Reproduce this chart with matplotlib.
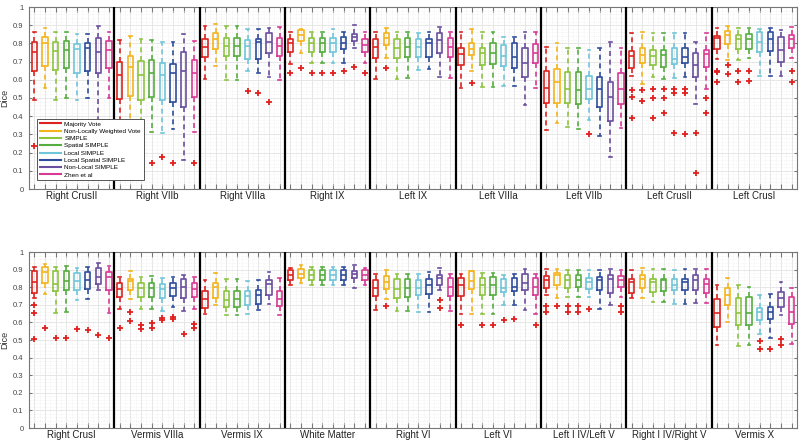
import matplotlib
matplotlib.use("Agg")
import matplotlib.pyplot as plt
from matplotlib.lines import Line2D
from matplotlib.ticker import MultipleLocator

plt.rcParams['font.family'] = ['Liberation Sans', 'DejaVu Sans']

methods = ["Majority Vote", "Non-Locally Weighted Vote", "SIMPLE", "Spatial SIMPLE",
           "Local SIMPLE", "Local Spatial SIMPLE", "Non-Local SIMPLE", "Zhen et al"]
colors = ["#dc2320", "#f4b41c", "#8cc43f", "#55ad3f", "#6fc6d8", "#2e4d9c", "#6a4f9e", "#d83a94"]

top_regions = ["Right CrusII", "Right VIIb", "Right VIIIa", "Right IX", "Left IX",
               "Left VIIIa", "Left VIIb", "Left CrusII", "Left CrusI"]
bottom_regions = ["Right CrusI", "Vermis VIIIa", "Vermis IX", "White Matter", "Right VI",
                  "Left VI", "Left I IV/Left V", "Right I IV/Right V", "Vermis X"]

whisker_hi = {
    "Right CrusII": [0.861, 0.883, 0.861, 0.861, 0.852, 0.853, 0.897, 0.861],
    "Right VIIb": [0.819, 0.84, 0.822, 0.819, 0.81, 0.81, 0.85, 0.815],
    "Right VIIIa": [0.896, 0.907, 0.896, 0.896, 0.877, 0.877, 0.886, 0.892],
    "Right IX": [0.861, 0.879, 0.861, 0.861, 0.877, 0.861, 0.901, 0.861],
    "Left IX": [0.864, 0.886, 0.864, 0.864, 0.859, 0.861, 0.888, 0.864],
    "Left VIIIa": [0.861, 0.879, 0.861, 0.864, 0.837, 0.837, 0.864, 0.864],
    "Left VIIb": [0.78, 0.80, 0.773, 0.777, 0.764, 0.777, 0.81, 0.777],
    "Left CrusII": [0.855, 0.861, 0.859, 0.859, 0.855, 0.859, 0.81, 0.859],
    "Left CrusI": [0.886, 0.897, 0.886, 0.886, 0.879, 0.883, 0.874, 0.892],
    "Right CrusI": [0.915, 0.934, 0.915, 0.92, 0.909, 0.915, 0.938, 0.92],
    "Vermis VIIIa": [0.858, 0.892, 0.858, 0.862, 0.854, 0.858, 0.871, 0.858],
    "Vermis IX": [0.843, 0.881, 0.848, 0.848, 0.833, 0.843, 0.886, 0.852],
    "White Matter": [0.909, 0.924, 0.915, 0.915, 0.915, 0.915, 0.924, 0.909],
    "Right VI": [0.873, 0.896, 0.873, 0.877, 0.877, 0.886, 0.911, 0.877],
    "Left VI": [0.877, 0.892, 0.881, 0.881, 0.871, 0.873, 0.905, 0.877],
    "Left I IV/Left V": [0.905, 0.905, 0.90, 0.90, 0.896, 0.90, 0.902, 0.90],
    "Right I IV/Right V": [0.90, 0.909, 0.902, 0.902, 0.90, 0.902, 0.902, 0.902],
    "Vermis X": [0.811, 0.854, 0.811, 0.801, 0.754, 0.759, 0.83, 0.797],
}
q3 = {
    "Right CrusII": [0.806, 0.833, 0.806, 0.815, 0.795, 0.804, 0.831, 0.815],
    "Right VIIb": [0.70, 0.73, 0.703, 0.707, 0.69, 0.687, 0.751, 0.707],
    "Right VIIIa": [0.824, 0.855, 0.828, 0.828, 0.819, 0.822, 0.855, 0.828],
    "Right IX": [0.824, 0.874, 0.828, 0.828, 0.831, 0.833, 0.85, 0.824],
    "Left IX": [0.822, 0.859, 0.824, 0.828, 0.822, 0.824, 0.855, 0.828],
    "Left VIIIa": [0.773, 0.80, 0.773, 0.80, 0.791, 0.80, 0.773, 0.797],
    "Left VIIb": [0.648, 0.659, 0.645, 0.641, 0.621, 0.614, 0.59, 0.636],
    "Left CrusII": [0.758, 0.773, 0.764, 0.764, 0.777, 0.777, 0.745, 0.764],
    "Left CrusI": [0.842, 0.87, 0.846, 0.85, 0.861, 0.861, 0.837, 0.846],
    "Right CrusI": [0.89, 0.915, 0.892, 0.892, 0.883, 0.886, 0.909, 0.886],
    "Vermis VIIIa": [0.826, 0.845, 0.826, 0.826, 0.82, 0.826, 0.845, 0.826],
    "Vermis IX": [0.777, 0.824, 0.777, 0.778, 0.777, 0.782, 0.843, 0.778],
    "White Matter": [0.896, 0.905, 0.896, 0.896, 0.896, 0.896, 0.892, 0.896],
    "Right VI": [0.839, 0.862, 0.848, 0.848, 0.843, 0.848, 0.871, 0.854],
    "Left VI": [0.854, 0.89, 0.854, 0.858, 0.848, 0.854, 0.877, 0.854],
    "Left I IV/Left V": [0.864, 0.881, 0.867, 0.867, 0.854, 0.858, 0.871, 0.864],
    "Right I IV/Right V": [0.848, 0.871, 0.848, 0.848, 0.845, 0.848, 0.867, 0.848],
    "Vermis X": [0.735, 0.797, 0.741, 0.744, 0.684, 0.688, 0.773, 0.744],
}
median = {
    "Right CrusII": [0.755, 0.804, 0.758, 0.764, 0.767, 0.773, 0.751, 0.764],
    "Right VIIb": [0.626, 0.672, 0.625, 0.636, 0.626, 0.636, 0.648, 0.636],
    "Right VIIIa": [0.782, 0.824, 0.788, 0.788, 0.788, 0.806, 0.806, 0.788],
    "Right IX": [0.80, 0.846, 0.80, 0.80, 0.80, 0.80, 0.837, 0.791],
    "Left IX": [0.782, 0.828, 0.773, 0.782, 0.782, 0.80, 0.819, 0.782],
    "Left VIIIa": [0.74, 0.767, 0.745, 0.745, 0.731, 0.727, 0.69, 0.745],
    "Left VIIb": [0.555, 0.59, 0.548, 0.544, 0.549, 0.549, 0.507, 0.548],
    "Left CrusII": [0.731, 0.736, 0.733, 0.736, 0.714, 0.723, 0.681, 0.74],
    "Left CrusI": [0.828, 0.846, 0.822, 0.822, 0.81, 0.822, 0.764, 0.822],
    "Right CrusI": [0.83, 0.886, 0.82, 0.833, 0.833, 0.839, 0.858, 0.858],
    "Vermis VIIIa": [0.792, 0.833, 0.795, 0.795, 0.792, 0.795, 0.801, 0.792],
    "Vermis IX": [0.735, 0.801, 0.729, 0.735, 0.75, 0.754, 0.816, 0.735],
    "White Matter": [0.871, 0.877, 0.871, 0.871, 0.871, 0.871, 0.877, 0.871],
    "Right VI": [0.795, 0.83, 0.792, 0.795, 0.797, 0.814, 0.854, 0.801],
    "Left VI": [0.814, 0.833, 0.814, 0.814, 0.797, 0.801, 0.824, 0.801],
    "Left I IV/Left V": [0.843, 0.867, 0.839, 0.843, 0.83, 0.839, 0.848, 0.843],
    "Right I IV/Right V": [0.83, 0.848, 0.83, 0.839, 0.814, 0.83, 0.839, 0.82],
    "Vermis X": [0.653, 0.758, 0.655, 0.655, 0.659, 0.659, 0.741, 0.659],
}
q1 = {
    "Right CrusII": [0.647, 0.676, 0.656, 0.663, 0.639, 0.648, 0.639, 0.663],
    "Right VIIb": [0.495, 0.513, 0.489, 0.507, 0.489, 0.478, 0.449, 0.507],
    "Right VIIIa": [0.727, 0.767, 0.733, 0.733, 0.714, 0.714, 0.745, 0.733],
    "Right IX": [0.751, 0.813, 0.755, 0.755, 0.755, 0.769, 0.815, 0.755],
    "Left IX": [0.718, 0.791, 0.718, 0.723, 0.723, 0.727, 0.745, 0.727],
    "Left VIIIa": [0.681, 0.736, 0.681, 0.687, 0.678, 0.663, 0.614, 0.69],
    "Left VIIb": [0.471, 0.471, 0.471, 0.465, 0.495, 0.449, 0.375, 0.467],
    "Left CrusII": [0.667, 0.69, 0.681, 0.672, 0.685, 0.69, 0.614, 0.672],
    "Left CrusI": [0.767, 0.795, 0.767, 0.769, 0.751, 0.758, 0.696, 0.773],
    "Right CrusI": [0.767, 0.826, 0.777, 0.782, 0.782, 0.792, 0.82, 0.782],
    "Vermis VIIIa": [0.744, 0.782, 0.744, 0.744, 0.74, 0.748, 0.74, 0.744],
    "Vermis IX": [0.684, 0.741, 0.688, 0.688, 0.70, 0.706, 0.758, 0.691],
    "White Matter": [0.843, 0.854, 0.843, 0.843, 0.843, 0.843, 0.852, 0.843],
    "Right VI": [0.75, 0.792, 0.741, 0.744, 0.758, 0.763, 0.814, 0.748],
    "Left VI": [0.748, 0.792, 0.754, 0.754, 0.773, 0.777, 0.786, 0.758],
    "Left I IV/Left V": [0.797, 0.814, 0.797, 0.801, 0.788, 0.782, 0.769, 0.801],
    "Right I IV/Right V": [0.767, 0.797, 0.773, 0.777, 0.786, 0.786, 0.786, 0.767],
    "Vermis X": [0.574, 0.697, 0.583, 0.583, 0.612, 0.621, 0.688, 0.589],
}
whisker_lo = {
    "Right CrusII": [0.487, 0.555, 0.49, 0.498, 0.487, 0.502, 0.30, 0.498],
    "Right VIIb": [0.31, 0.31, 0.31, 0.311, 0.306, 0.328, 0.159, 0.311],
    "Right VIIIa": [0.604, 0.678, 0.599, 0.599, 0.648, 0.636, 0.617, 0.599],
    "Right IX": [0.685, 0.749, 0.69, 0.69, 0.69, 0.69, 0.773, 0.69],
    "Left IX": [0.603, 0.718, 0.604, 0.608, 0.654, 0.658, 0.617, 0.608],
    "Left VIIIa": [0.553, 0.65, 0.559, 0.559, 0.566, 0.566, 0.462, 0.553],
    "Left VIIb": [0.324, 0.361, 0.339, 0.33, 0.379, 0.293, 0.174, 0.333],
    "Left CrusII": [0.621, 0.575, 0.617, 0.604, 0.608, 0.617, 0.465, 0.548],
    "Left CrusI": [0.712, 0.709, 0.709, 0.718, 0.621, 0.621, 0.621, 0.718],
    "Right CrusI": [0.74, 0.763, 0.655, 0.659, 0.725, 0.731, 0.782, 0.653],
    "Vermis VIIIa": [0.678, 0.735, 0.678, 0.678, 0.665, 0.686, 0.663, 0.678],
    "Vermis IX": [0.65, 0.697, 0.644, 0.644, 0.65, 0.669, 0.706, 0.644],
    "White Matter": [0.814, 0.826, 0.814, 0.814, 0.814, 0.814, 0.797, 0.81],
    "Right VI": [0.672, 0.735, 0.663, 0.665, 0.659, 0.659, 0.786, 0.665],
    "Left VI": [0.65, 0.65, 0.65, 0.65, 0.697, 0.697, 0.672, 0.65],
    "Left I IV/Left V": [0.758, 0.741, 0.744, 0.744, 0.744, 0.678, 0.697, 0.744],
    "Right I IV/Right V": [0.741, 0.741, 0.716, 0.716, 0.706, 0.706, 0.712, 0.712],
    "Vermis X": [0.473, 0.602, 0.466, 0.47, 0.536, 0.511, 0.64, 0.475],
}
outliers = {
    "Right CrusII": [[0.238], [], [], [], [], [], [], []],
    "Right VIIb": [[], [], [0.145], [0.145], [0.178], [0.145], [], [0.145]],
    "Right VIIIa": [[], [], [], [], [0.54], [0.526], [0.476], []],
    "Right IX": [[0.639], [0.665], [0.639], [0.639], [0.639], [0.648], [0.668], [0.639]],
    "Left IX": [[], [0.663], [], [], [], [], [], []],
    "Left VIIIa": [[], [0.584], [], [], [], [], [], []],
    "Left VIIb": [[], [], [], [], [0.302], [], [], []],
    "Left CrusII": [[0.544, 0.507, 0.388], [0.544, 0.484], [0.549, 0.502, 0.392],
                    [0.549, 0.498, 0.419], [0.548, 0.529, 0.31], [0.548, 0.529, 0.30],
                    [0.306, 0.09], [0.498, 0.419]],
    "Left CrusI": [[0.648, 0.645, 0.586], [0.681, 0.632], [0.648, 0.59], [0.65, 0.593],
                   [], [], [], [0.65, 0.59]],
    "Right CrusI": [[0.70, 0.655, 0.508], [0.57], [0.513], [0.513], [0.561], [0.555],
                    [0.53], [0.511]],
    "Vermis VIIIa": [[0.567], [0.659, 0.606], [0.583, 0.564], [0.598, 0.568],
                     [0.625, 0.615], [0.63, 0.617], [0.536], [0.593, 0.568]],
    "Vermis IX": [[], [], [], [], [], [], [], []],
    "White Matter": [[], [], [], [], [], [], [], []],
    "Right VI": [[], [0.691], [], [], [], [], [0.725, 0.682], []],
    "Left VI": [[0.587], [], [0.587], [0.583], [0.612], [0.617], [], [0.587]],
    "Left I IV/Left V": [[0.693, 0.659], [0.691], [0.691, 0.659], [0.691, 0.659],
                         [0.678], [], [], [0.691, 0.659]],
    "Right I IV/Right V": [[], [], [], [], [], [], [], []],
    "Vermis X": [[], [], [], [], [0.492, 0.447], [0.447], [0.508, 0.473], []],
}

n_m = len(methods)
fig = plt.figure(figsize=(8.0, 4.44), dpi=100)
ax_top = fig.add_axes([29 / 800, 1 - 189 / 444, 768 / 800, 182 / 444])
ax_bot = fig.add_axes([29 / 800, 1 - 428 / 444, 768 / 800, 176 / 444])

for ax, regions in ((ax_top, top_regions), (ax_bot, bottom_regions)):
    n_g = len(regions)
    for g, reg in enumerate(regions):
        for i in range(n_m):
            st = dict(med=median[reg][i], q1=q1[reg][i], q3=q3[reg][i],
                      whislo=whisker_lo[reg][i], whishi=whisker_hi[reg][i],
                      fliers=outliers[reg][i])
            c = colors[i]
            ax.bxp([st], positions=[g * n_m + i + 1], widths=0.52, capwidths=0.26,
                   showfliers=True, manage_ticks=False,
                   boxprops=dict(color=c, linewidth=1.2),
                   whiskerprops=dict(color=c, linewidth=1.2, linestyle=(0, (3, 2.2))),
                   capprops=dict(color=c, linewidth=1.2),
                   medianprops=dict(color=c, linewidth=1.2),
                   flierprops=dict(marker='+', markeredgecolor='#e0201f', markersize=5,
                                   markeredgewidth=1.3, linestyle='none'))
        ax.text(g * n_m + (n_m + 1) / 2, -0.012, reg, ha='center', va='top',
                fontsize=7, color='#222222',
                transform=ax.get_xaxis_transform())
    for g in range(1, n_g):
        ax.axvline(g * n_m + 0.5, color='black', linewidth=1.6, zorder=3)
    total = n_g * n_m
    ax.set_xlim(0.5, total + 0.5)
    ax.set_ylim(0, 1)
    ax.set_xticks(range(1, total + 1))
    ax.set_xticklabels([])
    ax.xaxis.set_minor_locator(MultipleLocator(0.5))
    ax.yaxis.set_minor_locator(MultipleLocator(0.02))
    ax.set_yticks([k / 10 for k in range(11)])
    ax.set_yticklabels(["0"] + [f"{k / 10:.1f}" for k in range(1, 10)] + ["1"])
    ax.grid(True, which='major', color='#e3e3e3', linewidth=0.6, linestyle='-')
    ax.grid(True, which='minor', color='#ececec', linewidth=0.5, linestyle=':')
    ax.set_axisbelow(True)
    ax.tick_params(axis='x', which='major', direction='in', length=3.5, top=True,
                   color='#777777', width=0.8)
    ax.tick_params(axis='x', which='minor', length=0, top=False, bottom=False)
    ax.tick_params(axis='y', which='major', direction='in', length=2.5, right=True,
                   color='#777777', labelsize=5.5, labelcolor='#444444', pad=4)
    ax.tick_params(axis='y', which='minor', length=0, left=False, right=False)
    for sp in ax.spines.values():
        sp.set_color('#777777')
        sp.set_linewidth(0.8)
    ax.set_ylabel("Dice", fontsize=6.5, color='#333333', labelpad=3)

handles = [Line2D([0], [0], color=c, linewidth=1.5) for c in colors]
leg = ax_top.legend(handles, methods, loc='lower left', bbox_to_anchor=(0.0104, 0.049),
                    fontsize=4.6, frameon=True, fancybox=False, framealpha=1,
                    edgecolor='#555555', borderpad=0.4, labelspacing=0.28,
                    handlelength=3.4, handletextpad=0.5, borderaxespad=0)
leg.get_frame().set_linewidth(0.7)
leg.set_zorder(10)

fig.savefig("out.png", dpi=100)
